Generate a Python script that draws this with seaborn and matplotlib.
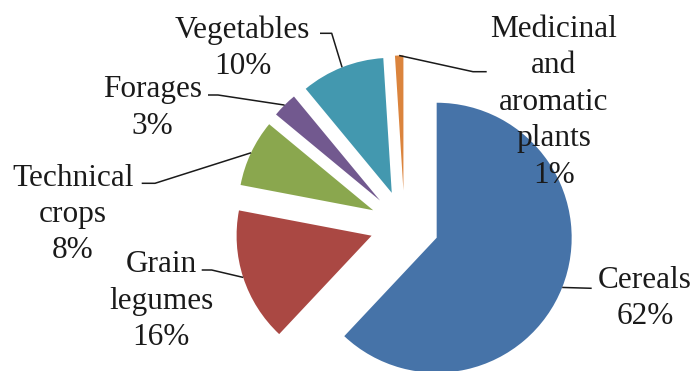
import matplotlib
matplotlib.use("Agg")
import matplotlib.pyplot as plt
import seaborn as sns
import numpy as np

categories = ["Cereals", "Grain legumes", "Technical crops", "Forages",
              "Vegetables", "Medicinal and aromatic plants"]
shares = [62, 16, 8, 3, 10, 1]
label_texts = ["Cereals\n62%", "Grain\nlegumes\n16%", "Technical\ncrops\n8%",
               "Forages\n3%", "Vegetables\n10%",
               "Medicinal\nand\naromatic\nplants\n1%"]
colors = ["#4673A8", "#AA4843", "#8AA74E", "#72598F", "#4398AF", "#DB843D"]

sns.set_theme(style="white")
plt.rcParams['font.family'] = ['Liberation Serif', 'DejaVu Serif']

W, H = 695, 371
fig = plt.figure(figsize=(W / 100, H / 100), dpi=100)
ax = fig.add_axes([0, 0, 1, 1])


def iy(y):
    return H - y


R = 135
EXP = 34.6
wedges, _ = ax.pie(shares, colors=colors, startangle=90, counterclock=False,
                   radius=R, center=(404.5, iy(225)), explode=[EXP] * len(shares),
                   wedgeprops=dict(linewidth=0))
ax.set_xlim(0, W)
ax.set_ylim(0, H)
ax.set_aspect('equal')
ax.axis('off')

# layout: (text x, text top y, [elbow points in image coords])
layout = [
    (645, 265.5, [(591.7, 288.3)]),
    (161, 250.5, [(211.7, 270), (201.7, 270)]),
    (73, 163.5, [(155, 183.3), (141.7, 183.3)]),
    (152.5, 75.5, [(218, 95), (208, 95)]),
    (242.5, 15.5, [(331.7, 33.3), (320, 33.3)]),
    (554, 15.0, [(473, 71.7), (486.7, 71.7)]),
]

for w, txt, (tx, ty, pts) in zip(wedges, label_texts, layout):
    mid = np.deg2rad((w.theta1 + w.theta2) / 2)
    cx, cy = w.center
    sx, sy = cx + w.r * np.cos(mid), cy + w.r * np.sin(mid)
    xs = [sx] + [p[0] for p in pts]
    ys = [sy] + [iy(p[1]) for p in pts]
    ax.plot(xs, ys, color="#1a1a1a", lw=1.1, solid_capstyle='butt')
    ax.text(tx, iy(ty), txt, ha='center', va='top', multialignment='center',
            fontsize=22.5, color="#1a1a1a", linespacing=1.34)

fig.savefig("out.png", dpi=100)
